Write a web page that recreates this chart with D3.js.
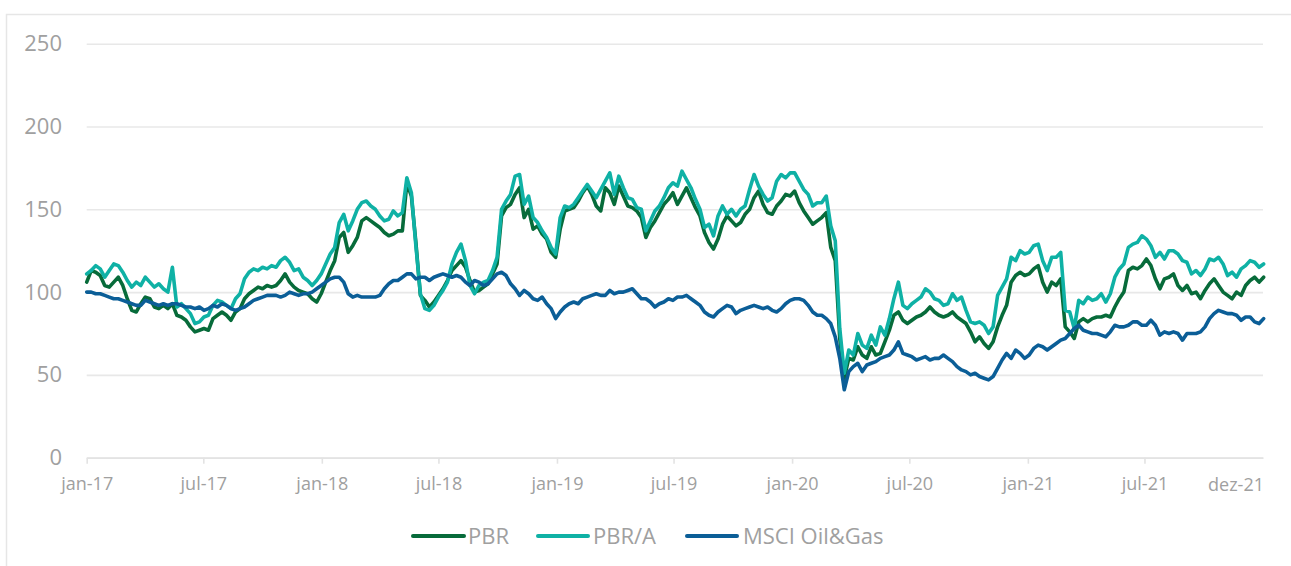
<!DOCTYPE html>
<html>
<head>
<meta charset="utf-8">
<script src="https://cdn.jsdelivr.net/npm/d3@7"></script>
<style>
  html, body { margin: 0; padding: 0; background: #fff; }
  svg { display: block; font-family: "Open Sans", "Noto Sans", sans-serif; }
</style>
</head>
<body>
<svg id="chart" width="1291" height="566"></svg>
<script>
// ---- data (weekly observations, index 100 = jan-17) ----
const startDate = "2017-01-01";
const pbr = [106,113,112,110,104,103,106,109,104,96,89,88,93,97,96,91,90,92,90,93,86,85,83,79,76,77,78,77,84,86,88,86,83,88,90,96,99,101,103,102,104,103,104,107,
111,106,103,101,100,99,96,94,99,106,113,119,133,136,124,128,133,143,145,143,141,139,136,134,135,137,137,166,158,130,98,95,91,94,98,102,107,113,116,119,115,107,100,
101,103,105,111,117,146,151,153,159,163,145,150,138,140,135,132,124,121,138,149,150,151,155,160,164,159,152,149,163,160,153,164,158,152,151,149,145,133,139,143,148,153,156,
160,153,158,163,157,151,146,136,130,126,132,141,146,143,140,142,147,150,157,161,153,148,147,152,155,159,158,161,154,149,145,141,143,145,148,127,119,72,48,60,59,67,62,60,
67,62,63,70,77,86,88,83,81,83,85,86,88,91,88,86,85,86,88,85,83,81,76,70,73,69,66,70,79,86,92,106,110,112,110,111,114,116,106,100,106,104,108,
79,76,72,82,84,82,84,85,85,86,85,91,96,100,113,115,114,116,120,116,108,102,108,109,111,104,101,104,99,100,96,101,105,108,104,100,98,96,100,98,104,107,109,106,109];

const pbrA = [111,113,116,114,109,113,117,116,112,107,103,106,104,109,106,103,105,102,100,115,91,93,90,87,81,82,85,86,92,95,94,92,90,96,99,108,112,114,113,115,114,116,115,119,
121,118,113,114,109,107,104,107,111,117,123,127,142,147,137,143,150,154,155,152,150,146,143,144,149,146,148,169,160,128,99,90,89,92,97,101,106,117,124,129,119,104,99,
104,106,107,113,121,150,155,159,170,171,153,158,145,142,137,133,127,123,145,152,151,153,157,161,165,161,157,162,167,172,159,170,163,157,156,151,150,137,143,149,152,157,163,
166,164,173,168,163,156,150,139,141,134,146,152,147,150,146,150,152,162,171,164,159,155,157,167,171,169,172,172,167,162,159,152,154,154,158,140,131,78,51,65,62,75,68,66,
74,68,79,74,84,96,106,92,90,93,95,97,102,100,96,95,92,93,99,95,97,89,82,81,82,80,75,79,98,103,108,121,119,125,123,124,128,129,119,113,121,121,124,
89,88,78,95,93,97,95,96,99,94,99,109,114,117,127,129,130,134,132,128,121,124,120,125,125,123,119,118,111,113,110,114,120,119,121,117,110,112,109,114,116,119,118,115,117];

const msci = [100,100,99,99,98,97,96,96,95,94,93,92,92,95,94,93,92,93,92,93,93,92,91,91,90,91,89,90,92,91,93,92,90,89,90,91,93,95,96,97,98,98,98,97,
98,100,99,98,99,99,100,102,104,106,108,109,109,106,99,97,98,97,97,97,97,98,102,105,107,107,109,111,111,108,109,109,107,109,110,111,110,109,110,109,106,104,107,
106,104,105,108,111,112,110,105,102,98,101,99,96,95,97,93,90,84,88,91,93,94,93,96,97,98,99,98,98,101,99,100,100,101,102,99,96,96,94,91,93,94,96,
95,97,97,98,96,94,92,88,86,85,88,90,92,91,87,89,90,91,92,91,90,91,89,88,90,93,95,96,96,95,92,88,86,86,84,81,73,60,41,52,55,57,52,56,
57,58,60,61,62,65,70,63,62,61,59,60,61,59,60,60,62,60,58,55,53,52,50,51,49,48,47,49,54,59,63,60,65,63,60,62,66,68,67,65,67,69,71,
72,75,78,80,77,76,75,75,74,73,76,80,79,79,80,82,82,80,80,83,80,74,76,75,76,75,71,75,75,75,76,79,84,87,89,88,87,87,86,83,85,85,82,81,84];

const seriesNames = ["PBR", "PBR/A", "MSCI Oil&Gas"];
const seriesColors = ["#076b3a", "#0fb1a5", "#0b5e97"];
const yTicks = [0, 50, 100, 150, 200, 250];
const xTickDates = ["2017-01-01","2017-07-01","2018-01-01","2018-07-01","2019-01-01","2019-07-01","2020-01-01","2020-07-01","2021-01-01","2021-07-01"];
const xTickLabels = ["jan-17","jul-17","jan-18","jul-18","jan-19","jul-19","jan-20","jul-20","jan-21","jul-21"];
const endLabel = "dez-21";
const domainDates = ["2017-01-01", "2022-01-01"];

(function () {
  const parse = d3.timeParse("%Y-%m-%d");
  const t0 = parse(startDate);
  const dates = pbr.map((_, i) => d3.timeDay.offset(t0, 7 * i));

  const svg = d3.select("#chart");
  const mLeft = 86.7, mRight = 1263, mTop = 43.7, mBottom = 457.7;

  const x = d3.scaleTime().domain(domainDates.map(parse)).range([mLeft, mRight]);
  const y = d3.scaleLinear().domain([0, 250]).range([mBottom, mTop]);

  // frame
  svg.append("path")
    .attr("d", "M6.5,566 L6.5,14.5 L1291,14.5")
    .attr("fill", "none").attr("stroke", "#e6e6e6").attr("stroke-width", 1.5);

  // y axis + grid
  const yAxis = svg.append("g").attr("transform", `translate(${mLeft},0)`)
    .call(d3.axisLeft(y).tickValues(yTicks).tickSize(-(mRight - mLeft)).tickPadding(24.7).tickFormat(d3.format("d")));
  yAxis.select(".domain").remove();
  yAxis.selectAll(".tick line").attr("stroke", "#e8e8e8").attr("stroke-width", 1.6);
  yAxis.selectAll(".tick text").attr("fill", "#a0a0a0").style("font-size", "22px").style("font-family", "'Open Sans', sans-serif");

  // x axis
  const xAxis = svg.append("g").attr("transform", `translate(0,${mBottom})`)
    .call(d3.axisBottom(x).tickValues(xTickDates.map(parse)).tickSizeInner(6).tickSizeOuter(0).tickPadding(14)
      .tickFormat((d, i) => xTickLabels[i]));
  xAxis.select(".domain").attr("stroke", "#e3e3e3").attr("stroke-width", 1.8);
  xAxis.selectAll(".tick line").attr("stroke", "#e3e3e3").attr("stroke-width", 1.6);
  xAxis.selectAll(".tick text").attr("fill", "#a0a0a0").style("font-size", "18px").style("font-family", "'Open Sans', sans-serif");
  xAxis.append("text").attr("x", mRight + 1).attr("y", 21).attr("dy", "0.71em")
    .attr("text-anchor", "end").attr("fill", "#a0a0a0")
    .style("font-size", "18px").style("font-family", "'Open Sans', sans-serif").text(endLabel);

  // lines
  const seriesData = [pbr, pbrA, msci];
  const line = d3.line().x((d, i) => x(dates[i])).y(d => y(d));
  seriesData.forEach((s, k) => {
    svg.append("path").datum(s)
      .attr("d", line)
      .attr("fill", "none")
      .attr("stroke", seriesColors[k])
      .attr("stroke-width", 3.6)
      .attr("stroke-linejoin", "round")
      .attr("stroke-linecap", "round");
  });

  // legend
  const legendItems = [{x1: 413, x2: 464, tx: 468}, {x1: 538, x2: 588, tx: 593}, {x1: 687, x2: 737, tx: 743}];
  const lg = svg.append("g");
  legendItems.forEach((p, k) => {
    lg.append("line").attr("x1", p.x1).attr("x2", p.x2).attr("y1", 536).attr("y2", 536)
      .attr("stroke", seriesColors[k]).attr("stroke-width", 4).attr("stroke-linecap", "round");
    lg.append("text").attr("x", p.tx).attr("y", 536).attr("dy", "0.36em")
      .attr("fill", "#a0a0a0").style("font-size", "22px").style("font-family", "'Open Sans', sans-serif")
      .text(seriesNames[k]);
  });
})();
</script>
</body>
</html>
